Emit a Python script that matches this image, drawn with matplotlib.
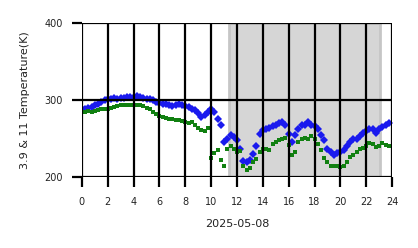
import numpy as np
import matplotlib
matplotlib.use("Agg")
import matplotlib.pyplot as plt

# hours of the day, every 15 min
hours = np.arange(0, 24, 0.25)

# 3.9 um channel (blue)
t39 = [288, 289, 290, 291, 293, 295, 298, 300, 302, 302, 303, 302,
       303, 303, 304, 304, 304, 305, 304, 303, 302, 301, 300, 297,
       296, 295, 295, 293, 292, 294, 295, 294, 292, 291, 289, 287,
       283, 278, 281, 285, 288, 284, 276, 268, 246, 250, 254, 252,
       248, 236, 221, 220, 222, 230, 240, 256, 261, 263, 264, 266,
       268, 270, 271, 268, 256, 246, 255, 263, 268, 268, 271, 268,
       266, 262, 255, 248, 237, 232, 229, 231, 232, 235, 240, 246,
       249, 250, 253, 257, 260, 263, 262, 257, 262, 265, 268, 270]

# 11 um channel (green)
t11 = [285, 285, 286, 285, 286, 287, 288, 289, 289, 290, 291, 292,
       293, 293, 293, 294, 294, 294, 293, 292, 290, 288, 285, 282,
       279, 278, 277, 275, 276, 274, 274, 273, 272, 270, 271, 268,
       264, 261, 260, 264, 225, 231, 235, 222, 215, 237, 241, 237,
       233, 234, 215, 209, 212, 219, 224, 232, 236, 237, 235, 243,
       246, 248, 250, 251, 242, 229, 232, 245, 250, 251, 250, 253,
       250, 243, 235, 225, 220, 215, 214, 214, 213, 215, 219, 226,
       229, 232, 236, 238, 241, 244, 243, 239, 241, 244, 242, 241]

# night period (shaded)
night = (11.4, 23.05)

fig = plt.figure(figsize=(4.18, 2.48), dpi=100)
ax = fig.add_axes([0.196, 0.286, 0.742, 0.621])

ax.axvspan(night[0], night[1], facecolor="#d6d6d6", edgecolor="#c6c6c6",
           linewidth=2, zorder=0)
ax.plot(hours, t39, "D", color="#1a1aee", ms=3.7, mew=0, zorder=2)
ax.plot(hours, t11, "s", color="#118011", ms=3.1, mew=0, zorder=2)

ax.set_xlim(0, 24)
ax.set_ylim(200, 400)
ax.set_xticks(range(0, 25, 2))
ax.set_yticks([200, 300, 400])
ax.grid(True, color="black", linewidth=1.6)
ax.set_axisbelow(False)
for s in ax.spines.values():
    s.set_visible(False)
ax.tick_params(length=7, width=1.6, pad=7, labelsize=7, colors="black",
               labelcolor="#222222")

ax.set_xlabel("2025-05-08", fontsize=8, color="#222222", labelpad=9)
ax.set_ylabel("3.9 & 11 Temperature(K)", fontsize=8, color="#222222",
              labelpad=10)

fig.savefig("out.png", dpi=100)
